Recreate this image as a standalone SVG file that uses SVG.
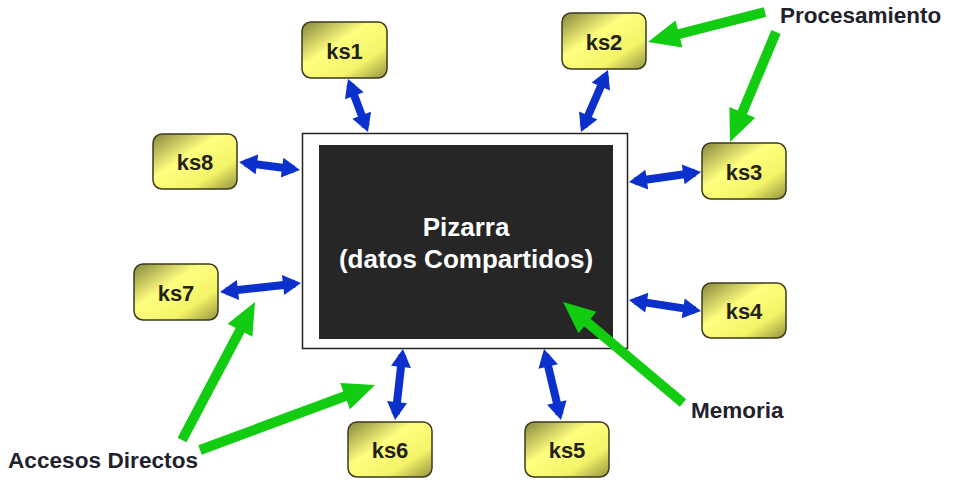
<svg xmlns="http://www.w3.org/2000/svg" width="973" height="496" viewBox="0 0 973 496">
<style>
  .box{stroke:#3a3a1e;stroke-width:1.5;fill:url(#yg)}
  .kl{font-family:"Liberation Sans",Arial,sans-serif;font-weight:bold;font-size:22px;fill:#22221a;text-anchor:middle}
  .lbl{font-family:"Liberation Sans",Arial,sans-serif;font-weight:bold;font-size:22.5px;fill:#22222c}
  .blue{stroke:#0b30cc;stroke-width:8;fill:none;marker-start:url(#bh);marker-end:url(#bh)}
  .green{stroke:#11cc11;stroke-width:10;fill:none;marker-end:url(#gh)}
  .pz{font-family:"Liberation Sans",Arial,sans-serif;font-weight:bold;font-size:26px;fill:#ffffff;text-anchor:middle}
</style>
<defs>
  <linearGradient id="yg" x1="0" y1="0" x2="1" y2="1">
    <stop offset="0" stop-color="#85853a"/>
    <stop offset="0.4" stop-color="#ffff80"/>
    <stop offset="0.72" stop-color="#f4f468"/>
    <stop offset="1" stop-color="#929240"/>
  </linearGradient>
  <marker id="bh" markerUnits="userSpaceOnUse" viewBox="-14 -12 24 24" markerWidth="24" markerHeight="24" refX="0" refY="0" orient="auto-start-reverse">
    <path d="M6,0 L-12,-10 L-12,10 z" fill="#0b30cc"/>
  </marker>
  <marker id="gh" markerUnits="userSpaceOnUse" viewBox="-25 -16 40 32" markerWidth="40" markerHeight="32" refX="0" refY="0" orient="auto">
    <path d="M12,0 L-20,-14 L-20,14 z" fill="#11cc11"/>
  </marker>
</defs>

<g id="pizarra">
  <rect x="302.5" y="133.5" width="325" height="215" fill="#ffffff" stroke="#222222" stroke-width="1.5"/>
  <rect x="319" y="145" width="294" height="194" fill="#262626"/>
  <text class="pz" x="466" y="236">Pizarra</text>
  <text class="pz" x="466" y="268">(datos Compartidos)</text>
</g>

<g id="ks1"><rect class="box" x="302" y="22" width="85" height="56" rx="9"/><text class="kl" x="344.5" y="59">ks1</text></g>
<g id="ks2"><rect class="box" x="562" y="13" width="84" height="56" rx="9"/><text class="kl" x="604" y="50">ks2</text></g>
<g id="ks3"><rect class="box" x="702" y="143" width="84" height="56" rx="9"/><text class="kl" x="744" y="180">ks3</text></g>
<g id="ks4"><rect class="box" x="702" y="283" width="84" height="55" rx="9"/><text class="kl" x="744" y="319">ks4</text></g>
<g id="ks5"><rect class="box" x="525" y="422" width="84" height="55" rx="9"/><text class="kl" x="567" y="458">ks5</text></g>
<g id="ks6"><rect class="box" x="348" y="422" width="84" height="55" rx="9"/><text class="kl" x="390" y="458">ks6</text></g>
<g id="ks7"><rect class="box" x="134" y="264" width="84" height="56" rx="9"/><text class="kl" x="176" y="301">ks7</text></g>
<g id="ks8"><rect class="box" x="153" y="134" width="84" height="55" rx="9"/><text class="kl" x="195" y="170">ks8</text></g>

<g id="labels">
  <text class="lbl" x="780" y="23">Procesamiento</text>
  <text class="lbl" x="691" y="418">Memoria</text>
  <text class="lbl" x="8" y="468" textLength="190">Accesos Directos</text>
</g>

<g id="connectors">
  <path class="blue" d="M350.1,84.6 L365.9,126.4"/>
  <path class="blue" d="M605.6,75.5 L583.4,126.5"/>
  <path class="blue" d="M634.9,181.2 L695.1,172.8"/>
  <path class="blue" d="M634.9,300.9 L695.1,310.1"/>
  <path class="blue" d="M545.4,354.8 L559.6,414.2"/>
  <path class="blue" d="M402.3,355 L395.7,414"/>
  <path class="blue" d="M226,291.3 L295,283.7"/>
  <path class="blue" d="M245,162.8 L294,169.2"/>

  <path class="green" d="M765,12 L659.6,39"/>
  <path class="green" d="M776,32 L734.6,130.9"/>
  <path class="green" d="M683,403 L572.2,309.7"/>
  <path class="green" d="M182,440 L249.4,312.6"/>
  <path class="green" d="M200,450 L363.8,389.2"/>
</g>
</svg>
